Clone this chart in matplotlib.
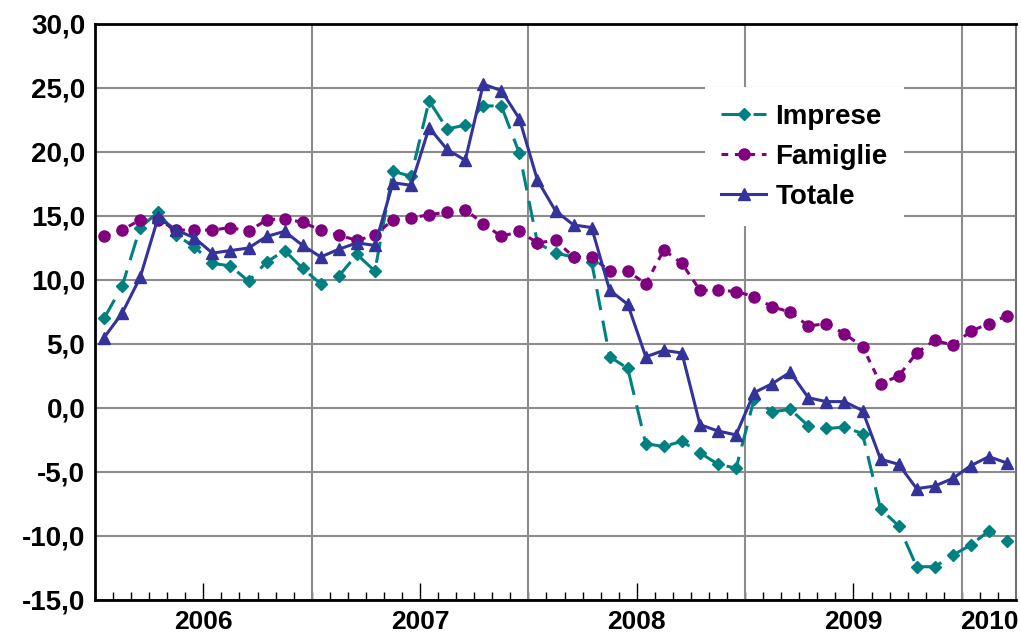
import matplotlib
matplotlib.use("Agg")
import matplotlib.pyplot as plt
import matplotlib.transforms as mtransforms
from matplotlib.ticker import FuncFormatter, FixedLocator

# Serie mensili gen 2006 - mar 2010 (variazioni %)
anni = ['2006', '2007', '2008', '2009', '2010']
mesi_per_anno = [12, 12, 12, 12, 3]

imprese = [7.0, 9.5, 14.1, 15.3, 13.5, 12.6, 11.3, 11.1, 9.9, 11.4, 12.3, 10.9,
           9.7, 10.3, 12.0, 10.7, 18.5, 18.1, 24.0, 21.8, 22.1, 23.6, 23.6, 19.9,
           12.9, 12.1, 11.8, 11.4, 4.0, 3.1, -2.8, -3.0, -2.6, -3.5, -4.4, -4.7,
           0.7, -0.3, -0.1, -1.4, -1.6, -1.5, -2.0, -7.9, -9.2, -12.4, -12.4, -11.5,
           -10.7, -9.6, -10.4]
famiglie = [13.4, 13.9, 14.7, 14.7, 13.9, 13.9, 13.9, 14.1, 13.8, 14.7, 14.8, 14.5,
            13.9, 13.5, 13.1, 13.5, 14.7, 14.85, 15.1, 15.3, 15.5, 14.4, 13.4, 13.8,
            12.9, 13.1, 11.8, 11.8, 10.7, 10.7, 9.7, 12.35, 11.3, 9.2, 9.2, 9.1,
            8.7, 7.9, 7.5, 6.4, 6.6, 5.8, 4.8, 1.9, 2.5, 4.3, 5.3, 4.9,
            6.0, 6.6, 7.2]
totale = [5.5, 7.4, 10.2, 14.9, 13.9, 13.3, 12.1, 12.3, 12.5, 13.4, 13.8, 12.7,
          11.8, 12.4, 12.9, 12.7, 17.6, 17.4, 21.9, 20.2, 19.35, 25.3, 24.8, 22.6,
          17.8, 15.4, 14.3, 14.1, 9.2, 8.1, 4.0, 4.5, 4.3, -1.3, -1.8, -2.1,
          1.2, 1.9, 2.8, 0.8, 0.5, 0.5, -0.2, -4.0, -4.4, -6.3, -6.1, -5.5,
          -4.5, -3.8, -4.3]

x = list(range(len(totale)))
n = len(x)

narrow = ['Liberation Sans Narrow', 'Liberation Sans', 'DejaVu Sans']
arial = ['Liberation Sans', 'DejaVu Sans']

fig = plt.figure(figsize=(10.21, 6.37), dpi=100)
ax = fig.add_axes([95 / 1021, 37 / 637, 921 / 1021, 576 / 637])

ax.plot(x, imprese, color='#008080', lw=2.2, dashes=(7, 3.5), marker='D', ms=6,
        label='Imprese', zorder=3)
ax.plot(x, famiglie, color='#800080', lw=2.2, dashes=(2.2, 2.2), marker='o', ms=8,
        label='Famiglie', zorder=3)
ax.plot(x, totale, color='#333399', lw=2.2, marker='^', ms=9,
        label='Totale', zorder=4)

ax.set_xlim(-0.5, n - 0.5)
ax.set_ylim(-15, 30)

# assi y
ax.set_yticks(range(-15, 31, 5))
ax.yaxis.set_major_formatter(FuncFormatter(lambda v, p: f"{v:.1f}".replace('.', ',')))
ax.tick_params(axis='y', length=0, pad=7)
for lab in ax.get_yticklabels():
    lab.set_family(narrow)
    lab.set_fontweight('bold')
    lab.set_fontsize(20)
ax.yaxis.grid(True, color='#8c8c8c', lw=1.5)
ax.set_axisbelow(True)

# assi x: tacche mensili, tacche lunghe a metà anno, griglia ai cambi d'anno
confini = [i - 0.5 for i in range(1, n)]
inizio = 0
meta_anno = []
cambi_anno = []
centri = []
for m in mesi_per_anno:
    centri.append(inizio + m / 2 - 0.5)
    if m == 12:
        meta_anno.append(inizio + 5.5)
    inizio += m
    if inizio < n:
        cambi_anno.append(inizio - 0.5)

ax.xaxis.set_major_locator(FixedLocator(meta_anno))
ax.xaxis.set_minor_locator(FixedLocator([c for c in confini if c not in meta_anno]))
ax.tick_params(axis='x', which='major', direction='in', length=12, width=1,
               labelbottom=False)
ax.tick_params(axis='x', which='minor', direction='in', length=6, width=1)
for c in cambi_anno:
    ax.axvline(c, color='#8c8c8c', lw=1.5, zorder=1)

trans = mtransforms.blended_transform_factory(ax.transData, ax.transAxes)
for c, a in zip(centri, anni):
    ax.text(c, -0.018, a, transform=trans, ha='center', va='top', fontsize=19,
            fontweight='bold', family=narrow)

for s in ['left', 'bottom', 'top']:
    ax.spines[s].set_linewidth(2)
    ax.spines[s].set_color('black')
ax.spines['right'].set_color('#707070')
ax.spines['right'].set_linewidth(1.5)

leg = ax.legend(loc='upper left', bbox_to_anchor=(0.662, 0.89), frameon=True,
                fancybox=False, framealpha=1, edgecolor='white',
                prop={'family': arial, 'weight': 'bold', 'size': 20},
                handlelength=1.6, handletextpad=0.35, labelspacing=0.5,
                borderpad=0.6, borderaxespad=0)
leg.get_frame().set_linewidth(0)

fig.savefig('out.png', dpi=100)
